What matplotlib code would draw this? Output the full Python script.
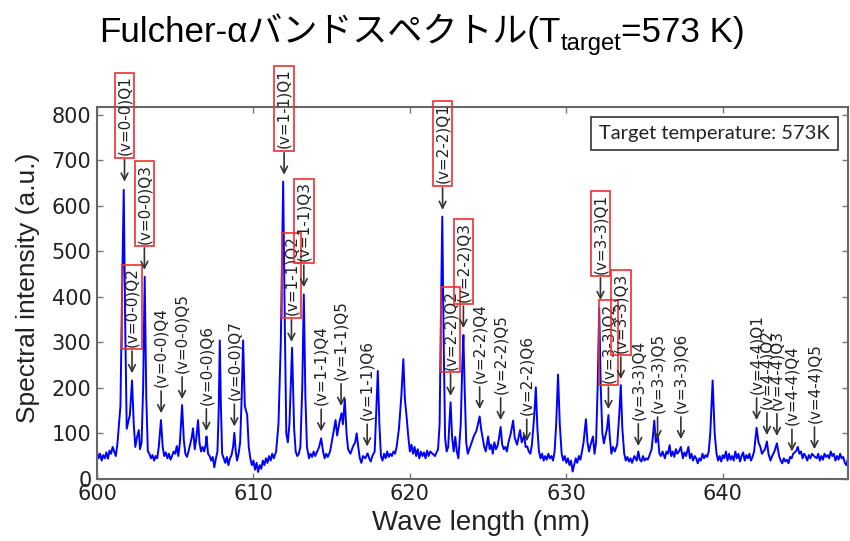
import numpy as np
import matplotlib.pyplot as plt

# spectrum (wavelength in nm, intensity in a.u.)
wave = [
    600.0, 600.1, 600.2, 600.3, 600.4, 600.5, 600.6, 600.7, 600.8, 600.9,
    601.0, 601.1, 601.2, 601.3, 601.5, 601.6, 601.71, 601.8, 601.9,
    602.0, 602.1, 602.24, 602.35, 602.45, 602.55, 602.67, 602.75, 602.85, 602.95,
    603.05, 603.15, 603.25, 603.35, 603.45, 603.55, 603.65, 603.75, 603.85, 603.95,
    604.09, 604.2, 604.3, 604.4, 604.5, 604.6, 604.7, 604.8, 604.9,
    605.0, 605.1, 605.2, 605.3, 605.44, 605.55, 605.65, 605.75, 605.85, 605.95,
    606.05, 606.14, 606.25, 606.35, 606.46, 606.55, 606.65, 606.75, 606.85, 606.95,
    607.0, 607.1, 607.2, 607.3, 607.4, 607.5, 607.6, 607.7, 607.78, 607.85, 607.92,
    608.0, 608.1, 608.2, 608.3, 608.4, 608.5, 608.6, 608.7, 608.78, 608.87, 608.95,
    609.05, 609.15, 609.25, 609.34, 609.45, 609.6, 609.7, 609.8, 609.9,
    610.0, 610.1, 610.2, 610.3, 610.4, 610.5, 610.6, 610.7, 610.8, 610.9,
    611.0, 611.1, 611.2, 611.3, 611.45, 611.6, 611.75, 611.9,
    612.0, 612.1, 612.2, 612.3, 612.47, 612.6, 612.7, 612.8, 612.9,
    613.0, 613.12, 613.22, 613.32, 613.42, 613.55, 613.65, 613.75, 613.85, 613.95,
    614.05, 614.2, 614.33, 614.45, 614.55, 614.65, 614.75, 614.9,
    615.0, 615.1, 615.25, 615.35, 615.5, 615.63, 615.72, 615.84, 615.95,
    616.05, 616.2, 616.35, 616.5, 616.6, 616.7, 616.8, 616.9,
    617.0, 617.15, 617.3, 617.4, 617.5, 617.6, 617.75, 617.85, 617.95,
    618.05, 618.15, 618.25, 618.35, 618.45, 618.55, 618.65, 618.75, 618.85, 618.95,
    619.05, 619.15, 619.3, 619.45, 619.58, 619.68, 619.78, 619.9,
    620.0, 620.1, 620.2, 620.3, 620.4, 620.5, 620.6, 620.7, 620.8, 620.9,
    621.0, 621.1, 621.2, 621.3, 621.45, 621.6, 621.7, 621.8, 621.9, 621.98,
    622.07, 622.16, 622.25, 622.35, 622.45, 622.52, 622.6, 622.7, 622.8, 622.9,
    623.0, 623.1, 623.25, 623.35, 623.42, 623.5, 623.6, 623.7, 623.8, 623.9,
    624.0, 624.1, 624.25, 624.35, 624.46, 624.55, 624.65, 624.75, 624.85,
    625.0, 625.1, 625.2, 625.3, 625.4, 625.5, 625.6, 625.7, 625.8, 625.9,
    626.0, 626.1, 626.2, 626.3, 626.45, 626.6, 626.7, 626.85,
    627.04, 627.15, 627.3, 627.4, 627.5, 627.6, 627.7, 627.8, 627.95,
    628.05, 628.15, 628.25, 628.35, 628.45, 628.55, 628.65, 628.75, 628.85, 628.95,
    629.05, 629.15, 629.25, 629.35, 629.47, 629.58, 629.7, 629.8, 629.9,
    630.0, 630.1, 630.2, 630.3, 630.4, 630.5, 630.6, 630.7, 630.8, 630.9,
    631.0, 631.1, 631.25, 631.35, 631.45, 631.55, 631.7, 631.8, 631.9,
    632.0, 632.1, 632.2, 632.3, 632.4, 632.5, 632.6, 632.69, 632.78, 632.88, 632.98,
    633.1, 633.25, 633.38, 633.48, 633.58, 633.7, 633.8, 633.9,
    634.0, 634.1, 634.2, 634.35, 634.5, 634.6, 634.7, 634.8, 634.9,
    635.0, 635.1, 635.2, 635.3, 635.45, 635.55, 635.62, 635.72, 635.85, 635.95,
    636.05, 636.15, 636.3, 636.4, 636.5, 636.6, 636.7, 636.8, 636.9,
    637.0, 637.1, 637.2, 637.32, 637.45, 637.55, 637.65, 637.8, 637.9,
    638.0, 638.1, 638.2, 638.3, 638.4, 638.5, 638.6, 638.7, 638.8, 638.9,
    639.0, 639.1, 639.2, 639.35, 639.48, 639.6, 639.7, 639.8, 639.9,
    640.0, 640.1, 640.2, 640.3, 640.4, 640.5, 640.6, 640.7, 640.8, 640.9,
    641.0, 641.1, 641.2, 641.3, 641.4, 641.5, 641.6, 641.7, 641.8, 641.9,
    642.0, 642.16, 642.28, 642.4, 642.5, 642.6, 642.7, 642.82, 642.92,
    643.05, 643.15, 643.3, 643.46, 643.6, 643.7, 643.8, 643.9,
    644.0, 644.1, 644.2, 644.3, 644.4, 644.5, 644.6, 644.7, 644.79, 644.9,
    645.0, 645.1, 645.2, 645.3, 645.4, 645.5, 645.6, 645.7, 645.86,
    646.0, 646.1, 646.2, 646.3, 646.4, 646.5, 646.6, 646.7, 646.8, 646.9,
    647.0, 647.1, 647.2, 647.3, 647.4, 647.5, 647.6, 647.7, 647.8, 647.9, 648.0,
]
intensity = [
    60, 45, 55, 40, 52, 45, 58, 44, 62, 55,
    70, 60, 50, 75, 160, 400, 635, 350, 110,
    125, 140, 216, 120, 70, 90, 107, 65, 80, 200,
    444, 180, 60, 55, 45, 52, 40, 50, 45, 70,
    129, 70, 50, 58, 45, 55, 42, 50, 60,
    55, 72, 50, 80, 162, 85, 55, 48, 60, 75,
    90, 111, 65, 90, 129, 80, 60, 70, 60, 75,
    93, 55, 50, 40, 48, 25, 45, 60, 150, 304, 160,
    55, 45, 35, 48, 30, 45, 52, 70, 101, 60, 40,
    55, 80, 180, 304, 160, 140, 70, 45, 30,
    40, 20, 35, 15, 30, 22, 40, 30, 45, 35,
    50, 40, 55, 45, 60, 120, 300, 653,
    350, 100, 80, 120, 288, 110, 60, 50, 55,
    70, 200, 405, 180, 70, 45, 55, 48, 60, 50,
    58, 70, 89, 60, 45, 55, 48, 60,
    80, 100, 129, 95, 125, 144, 120, 175, 100,
    65, 55, 70, 80, 100, 70, 45, 35,
    50, 45, 56, 45, 38, 50, 60, 150, 237,
    120, 50, 40, 55, 45, 60, 48, 55, 50, 60,
    55, 70, 110, 180, 263, 175, 140, 92,
    60, 75, 55, 70, 50, 65, 45, 60, 50, 58,
    45, 62, 50, 60, 55, 50, 58, 65, 120, 350,
    576, 300, 90, 60, 70, 120, 168, 90, 60, 92,
    60, 45, 120, 250, 316, 200, 80, 55, 65, 75,
    85, 95, 105, 120, 137, 110, 90, 70, 60,
    93, 65, 75, 55, 80, 65, 72, 90, 114, 75,
    65, 70, 60, 80, 100, 128, 90, 75,
    107, 80, 95, 70, 71, 60, 55, 75, 140,
    201, 110, 60, 45, 55, 40, 50, 42, 55, 45,
    50, 40, 60, 120, 229, 120, 55, 40, 50,
    35, 45, 30, 40, 16, 30, 45, 35, 50, 42,
    60, 80, 131, 80, 60, 75, 93, 55, 80,
    200, 375, 200, 100, 78, 95, 110, 140, 90, 55, 70,
    60, 75, 140, 206, 110, 55, 40, 48,
    38, 45, 35, 50, 40, 60, 42, 38, 50,
    40, 45, 42, 50, 65, 100, 128, 80, 93, 55,
    50, 60, 45, 60, 55, 74, 50, 60, 48,
    65, 55, 60, 70, 45, 58, 50, 70, 45,
    55, 40, 50, 45, 34, 45, 40, 55, 45, 52,
    48, 60, 100, 216, 100, 55, 40, 50, 38,
    52, 45, 60, 40, 55, 42, 50, 40, 60, 45,
    55, 38, 50, 58, 40, 52, 45, 55, 40, 48,
    60, 112, 80, 70, 55, 60, 65, 82, 55,
    40, 50, 60, 78, 50, 40, 34, 45,
    38, 42, 34, 48, 45, 55, 58, 62, 70, 55,
    60, 45, 55, 49, 40, 52, 45, 55, 49,
    45, 55, 40, 50, 42, 55, 48, 52, 45, 60,
    50, 55, 40, 50, 42, 55, 45, 48, 35, 30, 45,
]

# line labels: wavelength of the arrow, intensity at the arrow tip, boxed or not
ann_labels = [
    '(v=0-0)Q1', '(v=0-0)Q2', '(v=0-0)Q3', '(v=0-0)Q4', '(v=0-0)Q5', '(v=0-0)Q6', '(v=0-0)Q7',
    '(v=1-1)Q1', '(v=1-1)Q2', '(v=1-1)Q3', '(v=1-1)Q4', '(v=1-1)Q5', '(v=1-1)Q6',
    '(v=2-2)Q1', '(v=2-2)Q2', '(v=2-2)Q3', '(v=2-2)Q4', '(v=2-2)Q5', '(v=2-2)Q6',
    '(v=3-3)Q1', '(v=3-3)Q2', '(v=3-3)Q3', '(v=3-3)Q4', '(v=3-3)Q5', '(v=3-3)Q6',
    '(v=4-4)Q1', '(v=4-4)Q2', '(v=4-4)Q3', '(v=4-4)Q4', '(v=4-4)Q5',
]
ann_wl = [
    601.76, 602.24, 603.03, 604.1, 605.44, 606.99, 608.78,
    611.96, 612.43, 613.22, 614.33, 615.6, 617.27,
    622.09, 622.6, 623.42, 624.46, 625.8, 627.47,
    632.18, 632.69, 633.48, 634.6, 635.83, 637.32,
    642.16, 642.82, 643.46, 644.42, 645.86,
]
ann_tip = [
    653, 232, 459, 144, 175, 105, 115,
    668, 301, 421, 104, 160, 71,
    591, 182, 331, 153, 129, 82,
    393, 153, 219, 72, 87, 87,
    129, 96, 94, 60, 65,
]
ann_boxed = [
    True, True, True, False, False, False, False,
    True, True, True, False, False, False,
    True, True, True, False, False, False,
    True, True, True, False, False, False,
    False, False, False, False, False,
]

fig = plt.figure(figsize=(8.5, 5.41), dpi=100)
ax = fig.add_axes([0.1141, 0.115, 0.8835, 0.6863])

ax.plot(wave, intensity, color='#0000ff', lw=1.4)
ax.set_xlim(600, 648)
ax.set_ylim(0, 816)
ax.set_xticks(range(600, 641, 10))
ax.set_yticks(range(0, 801, 100))
ax.tick_params(direction='in', top=True, right=True, length=4, width=1,
               color='#777777', labelsize=15, labelcolor='#222222', pad=4)
for s in ax.spines.values():
    s.set_color('#666666')
    s.set_linewidth(1.5)

for lab, x, y, boxed in zip(ann_labels, ann_wl, ann_tip, ann_boxed):
    bb = None
    if boxed:
        bb = dict(boxstyle='square,pad=0.15', fc='none', ec='#ee3030', lw=1.2)
    ax.annotate(lab, xy=(x, y), xytext=(0, 19), textcoords='offset points',
                rotation=90, ha='center', va='bottom', fontsize=11,
                color='#222222', bbox=bb, annotation_clip=False,
                arrowprops=dict(arrowstyle='->', color='#333333', lw=1.2,
                                shrinkA=1, shrinkB=0, mutation_scale=12))

ax.text(0.822, 0.931, 'Target temperature: 573K', transform=ax.transAxes,
        ha='center', va='center', fontsize=14.5, family='Lato', color='#222222',
        bbox=dict(boxstyle='square,pad=0.4', fc='white', ec='#333333', lw=1.2))

sans = ['Liberation Sans', 'Noto Sans CJK JP']
fig.text(0.0335, 0.4686, 'Spectral intensity (a.u.)', rotation=90,
         ha='center', va='center', fontsize=19, family=sans, color='#222222')
fig.text(481 / 850, 1 - 523 / 541, 'Wave length (nm)', ha='center', va='center',
         fontsize=20, family=sans, color='#222222')

# title built from pieces so the subscript can sit lower
fig.canvas.draw()
r = fig.canvas.get_renderer()
fs = 25.2
base_y = 1 - 42 / 541
t1 = fig.text(0, base_y, 'Fulcher-αバンドスペクトル(T', fontsize=fs, family=sans, va='baseline')
t2 = fig.text(0, base_y - 8 / 541, 'target', fontsize=fs * 0.68, family=sans, va='baseline')
t3 = fig.text(0, base_y, '=573 K)', fontsize=fs, family=sans, va='baseline')
widths = [t.get_window_extent(r).width for t in (t1, t2, t3)]
x0 = 422 - sum(widths) / 2
for t, w in zip((t1, t2, t3), widths):
    t.set_x(x0 / 850)
    x0 += w

fig.savefig('out.png', dpi=100)
